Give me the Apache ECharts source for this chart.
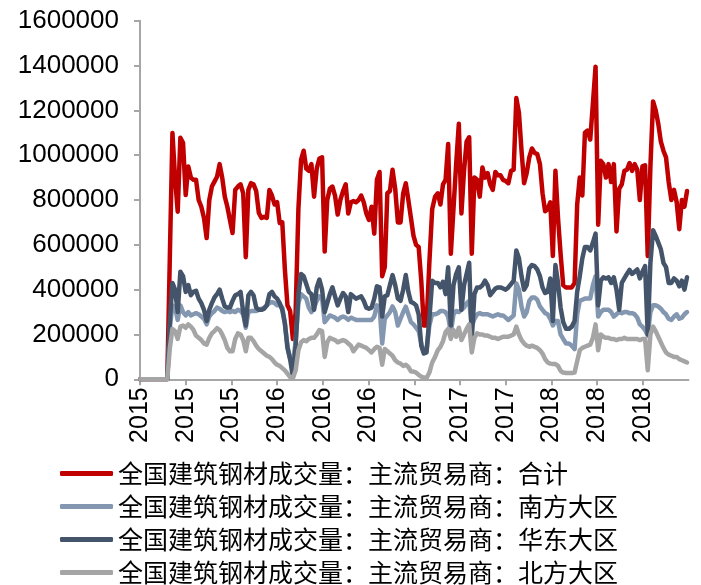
<!DOCTYPE html>
<html>
<head>
<meta charset="utf-8">
<script src="https://cdn.jsdelivr.net/npm/echarts@6/dist/echarts.min.js"></script>
<style>
html,body{margin:0;padding:0;background:#ffffff;}
#chart{width:701px;height:585px;}
</style>
</head>
<body>
<div id="chart"></div>
<script>
// Weekly observations starting on this date (one value per week)
const startDate = [2015, 0, 2];
const weekCount = 209;

const seriesNames = [
  '全国建筑钢材成交量：主流贸易商：合计',
  '全国建筑钢材成交量：主流贸易商：南方大区',
  '全国建筑钢材成交量：主流贸易商：华东大区',
  '全国建筑钢材成交量：主流贸易商：北方大区'
];

const xTickLabels = ['2015','2015','2015','2016','2016','2016','2017','2017','2017','2018','2018','2018'];
const yTickValues = [0,200000,400000,600000,800000,1000000,1200000,1400000,1600000];

const totalValues = [
0,0,0,0,0,0,0,0,0,0,
0,550000,1099000,900000,748000,1078000,1055000,822000,949000,900000,
890000,890000,800000,770000,720000,630000,800000,860000,882000,904000,
960000,900000,815000,770000,711000,653000,845000,860000,870000,830000,
545000,845000,875000,870000,840000,742000,720000,725000,720000,845000,
820000,780000,790000,697000,700000,490000,330000,305000,180000,300000,
760000,980000,1020000,940000,930000,960000,815000,940000,985000,990000,
570000,800000,850000,860000,820000,735000,800000,840000,870000,740000,
790000,795000,790000,800000,820000,790000,740000,711000,770000,650000,
890000,925000,460000,500000,830000,840000,935000,850000,700000,700000,
830000,875000,800000,720000,640000,600000,590000,440000,240000,240000,
520000,760000,815000,830000,780000,870000,890000,1050000,560000,760000,
960000,1140000,740000,930000,1060000,1080000,560000,900000,890000,815000,
945000,900000,920000,870000,845000,925000,910000,910000,890000,885000,
875000,930000,935000,1255000,1190000,1020000,875000,920000,990000,1030000,
1010000,1005000,960000,830000,750000,760000,790000,550000,930000,720000,
560000,420000,410000,410000,410000,430000,780000,900000,820000,1100000,
1110000,1070000,1230000,1395000,690000,975000,960000,900000,960000,880000,
960000,660000,850000,870000,930000,935000,965000,930000,960000,935000,
800000,950000,955000,550000,950000,1240000,1200000,1140000,1060000,1020000,
990000,880000,800000,845000,790000,670000,800000,770000,840000
];

const southValues = [
0,0,0,0,0,0,0,0,0,0,
0,230000,330000,320000,265000,330000,300000,285000,300000,285000,
290000,295000,290000,280000,270000,245000,280000,295000,305000,320000,
315000,305000,300000,305000,300000,305000,300000,310000,305000,290000,
230000,300000,305000,305000,305000,310000,315000,320000,330000,340000,
345000,340000,330000,330000,320000,250000,150000,90000,70000,170000,
340000,380000,370000,360000,320000,300000,320000,350000,370000,360000,
255000,270000,285000,280000,275000,265000,275000,280000,275000,265000,
275000,270000,265000,265000,265000,265000,265000,265000,265000,280000,
330000,320000,160000,270000,285000,300000,325000,300000,240000,270000,
300000,324000,290000,255000,245000,230000,215000,160000,120000,125000,
240000,290000,290000,295000,305000,305000,300000,280000,210000,290000,
305000,300000,310000,320000,340000,350000,235000,270000,290000,295000,
290000,290000,290000,285000,280000,285000,290000,285000,285000,275000,
265000,275000,285000,428000,400000,324000,280000,300000,350000,365000,
365000,355000,325000,310000,295000,290000,270000,240000,260000,260000,
200000,180000,160000,160000,150000,135000,290000,350000,355000,360000,
360000,360000,420000,460000,280000,300000,310000,310000,310000,300000,
280000,290000,300000,295000,300000,300000,295000,295000,290000,275000,
245000,235000,220000,195000,300000,330000,330000,325000,315000,300000,
290000,270000,265000,280000,290000,270000,275000,290000,300000
];

const eastValues = [
0,0,0,0,0,0,0,0,0,0,
0,260000,430000,400000,300000,480000,460000,390000,420000,375000,
390000,395000,360000,340000,310000,260000,310000,340000,365000,380000,
400000,360000,325000,320000,320000,350000,375000,380000,390000,300000,
240000,375000,390000,375000,320000,310000,310000,315000,330000,380000,
390000,370000,360000,340000,310000,250000,140000,90000,10000,150000,
380000,470000,460000,425000,390000,380000,310000,410000,445000,400000,
300000,340000,380000,410000,370000,330000,360000,385000,370000,300000,
380000,370000,360000,365000,370000,350000,320000,315000,320000,360000,
415000,410000,280000,370000,375000,420000,465000,420000,360000,350000,
400000,465000,390000,345000,340000,330000,290000,150000,115000,120000,
270000,440000,430000,430000,410000,435000,380000,500000,240000,420000,
470000,500000,310000,420000,470000,520000,180000,380000,410000,410000,
420000,440000,420000,375000,390000,405000,410000,410000,405000,400000,
410000,425000,440000,575000,540000,460000,400000,420000,495000,510000,
505000,490000,460000,410000,385000,390000,450000,260000,510000,430000,
320000,255000,225000,225000,235000,260000,390000,460000,540000,590000,
590000,575000,610000,650000,330000,440000,455000,450000,455000,430000,
455000,400000,310000,430000,450000,470000,488000,470000,480000,490000,
450000,480000,505000,200000,520000,665000,640000,610000,580000,520000,
500000,430000,430000,450000,440000,415000,440000,400000,455000
];

const northValues = [
0,0,0,0,0,0,0,0,0,0,
0,140000,225000,215000,180000,235000,240000,230000,245000,235000,
220000,195000,185000,175000,160000,155000,185000,205000,215000,228000,
220000,200000,175000,140000,125000,125000,180000,205000,200000,175000,
125000,185000,185000,170000,150000,135000,125000,115000,105000,100000,
90000,75000,65000,60000,50000,40000,25000,10000,5000,40000,
130000,165000,175000,170000,180000,185000,185000,200000,220000,215000,
100000,165000,185000,180000,175000,165000,170000,175000,170000,160000,
150000,125000,140000,155000,150000,145000,140000,130000,120000,135000,
145000,140000,65000,135000,125000,115000,105000,85000,75000,70000,
60000,65000,55000,35000,35000,30000,20000,12000,8000,5000,
30000,75000,100000,130000,145000,170000,210000,225000,180000,220000,
190000,230000,175000,200000,225000,245000,120000,185000,205000,200000,
200000,195000,195000,190000,185000,185000,180000,185000,190000,190000,
190000,195000,200000,235000,200000,175000,160000,150000,145000,150000,
145000,140000,130000,115000,90000,75000,70000,68000,68000,60000,
38000,30000,28000,28000,28000,30000,80000,130000,140000,145000,
150000,155000,185000,245000,130000,200000,190000,185000,185000,180000,
180000,175000,180000,180000,185000,180000,180000,180000,180000,180000,
175000,180000,180000,40000,200000,235000,215000,190000,165000,140000,
120000,110000,105000,100000,100000,90000,85000,80000,75000
];

const seriesColors = ['#C00000', '#8497B0', '#44546A', '#A5A5A5'];
const seriesValues = [totalValues, southValues, eastValues, northValues];

// week dates -> position in months since Jan 2015 (value axis in months)
const t0 = Date.UTC(startDate[0], startDate[1], startDate[2]);
const weekDates = [];
for (let i = 0; i < weekCount; i++) weekDates.push(t0 + i * 7 * 86400000);
function monthPos(t) {
  const d = new Date(t);
  const y = d.getUTCFullYear(), m = d.getUTCMonth(), day = d.getUTCDate();
  const dim = new Date(Date.UTC(y, m + 1, 0)).getUTCDate();
  return (y - 2015) * 12 + m + (day - 1) / dim;
}
const xPos = weekDates.map(monthPos);

const axisGrey = '#A6A6A6';
const chart = echarts.init(document.getElementById('chart'), null, {renderer: 'canvas'});
chart.setOption({
  animation: false,
  backgroundColor: '#ffffff',
  grid: {left: 140, right: 12.5, top: 20.7, bottom: 205.7, containLabel: false},
  xAxis: {
    type: 'value', min: 0, max: 48, interval: 4,
    axisLine: {show: true, lineStyle: {color: axisGrey, width: 2}},
    axisTick: {show: true, inside: false, length: 6, lineStyle: {color: axisGrey, width: 2}},
    splitLine: {show: false},
    axisLabel: {
      show: true, rotate: 90, margin: 8, fontSize: 25, color: '#000000',
      fontFamily: 'Liberation Sans, Arial, sans-serif',
      showMaxLabel: false,
      formatter: function (v) { const i = Math.round(v / 4); return xTickLabels[i] || ''; }
    }
  },
  yAxis: {
    type: 'value', min: yTickValues[0], max: yTickValues[yTickValues.length - 1], interval: yTickValues[1] - yTickValues[0],
    axisLine: {show: true, lineStyle: {color: axisGrey, width: 2}},
    axisTick: {show: true, inside: false, length: 6, lineStyle: {color: axisGrey, width: 2}},
    splitLine: {show: false},
    axisLabel: {
      margin: 21, fontSize: 26, color: '#000000', fontFamily: 'Liberation Sans, Arial, sans-serif',
      formatter: function (v) { return String(Math.round(v)); }
    }
  },
  legend: {
    orient: 'vertical', left: 55, top: 452, height: 160, width: 660, itemGap: 0,
    itemWidth: 53, itemHeight: 5, icon: 'roundRect',
    textStyle: {fontSize: 25, lineHeight: 33, color: '#000000', fontFamily: 'Noto Sans CJK SC'},
    data: seriesNames
  },
  series: seriesNames.map(function (name, si) {
    return {
      name: name, type: 'line', showSymbol: false, symbol: 'none', smooth: false,
      color: seriesColors[si],
      lineStyle: {color: seriesColors[si], width: 4.5, cap: 'round', join: 'round'},
      data: xPos.map(function (x, i) { return [x, seriesValues[si][i]]; })
    };
  })
});
</script>
</body>
</html>
